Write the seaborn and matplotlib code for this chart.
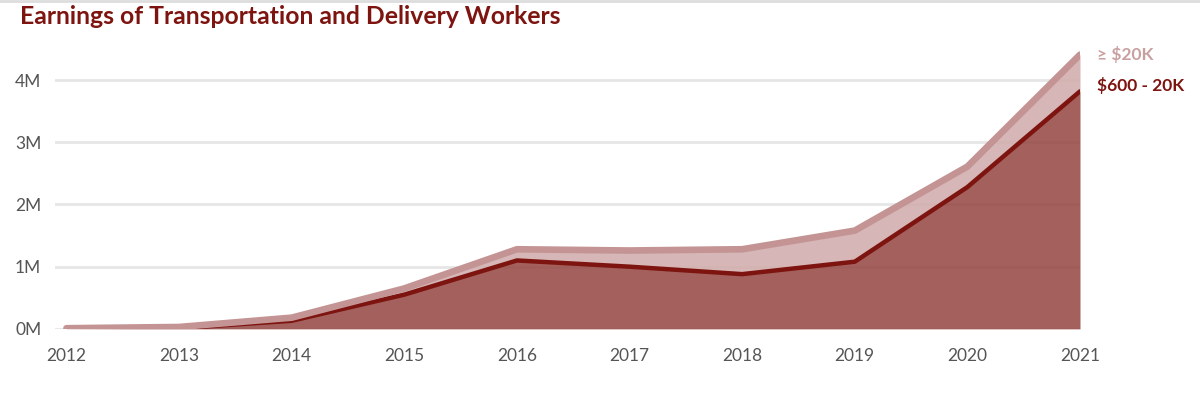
import seaborn as sns
import matplotlib.pyplot as plt
import matplotlib.ticker as mticker
from matplotlib.lines import Line2D
import pandas as pd

# valores (milhões)
years = [2012, 2013, 2014, 2015, 2016, 2017, 2018, 2019, 2020, 2021]
mid_band = [0.00, 0.01, 0.13, 0.55, 1.10, 1.00, 0.88, 1.08, 2.28, 3.82]   # $600 - 20K
high_band = [0.01, 0.02, 0.05, 0.10, 0.18, 0.26, 0.40, 0.50, 0.33, 0.59]  # >= $20K

df = pd.DataFrame({"year": years, "mid": mid_band, "high": high_band})
df["mid"] = df["mid"] * 1e6
df["total"] = df["mid"] + df["high"] * 1e6

sns.set_theme(style="white")
plt.rcParams["font.family"] = ["Lato", "DejaVu Sans"]

fig = plt.figure(figsize=(12, 4.04), dpi=100)
ax = fig.add_axes([0.046, 0.186, 0.854, 0.708])

for v in [0, 1e6, 2e6, 3e6, 4e6]:
    ax.axhline(v, color="#e6e6e6", lw=2, zorder=0)

ax.fill_between(df["year"], df["mid"], df["total"], color="#d2aeae", alpha=0.9, lw=0, zorder=1)
ax.fill_between(df["year"], 0, df["mid"], color="#964a46", alpha=0.88, lw=0, zorder=1)
sns.lineplot(data=df, x="year", y="mid", color="#7d140f", lw=3.2, ax=ax, zorder=3)
sns.lineplot(data=df, x="year", y="total", color="#c49494", lw=4.8, ax=ax, zorder=4)

ax.set_xlim(2011.9, 2021)
ax.set_ylim(0, 4.6e6)
ax.set_xticks(years)
ax.set_yticks([0, 1e6, 2e6, 3e6, 4e6])
ax.yaxis.set_major_formatter(mticker.FuncFormatter(lambda v, p: f"{v / 1e6:.0f}M"))
ax.tick_params(axis="both", length=0, labelsize=12.5, colors="#555555")
ax.tick_params(axis="x", pad=14)
ax.tick_params(axis="y", pad=10)
ax.set_xlabel("")
ax.set_ylabel("")
sns.despine(ax=ax, left=True, bottom=True)
ax.grid(False)

ax.text(2021.15, df["total"].iloc[-1] + 0.0e6, "≥ $20K", color="#c9a0a0",
        fontsize=12.5, fontweight="bold", va="center")
ax.text(2021.15, df["mid"].iloc[-1] + 0.1e6, "$600 - 20K", color="#7d140f",
        fontsize=12.5, fontweight="bold", va="center")

fig.text(0.017, 0.958, "Earnings of Transportation and Delivery Workers",
         color="#7d140f", fontsize=17.8, fontweight="bold", va="center")
fig.add_artist(Line2D([0, 1], [0.997, 0.997], color="#dddddd", lw=2, transform=fig.transFigure))

fig.savefig("out.png", dpi=100)
